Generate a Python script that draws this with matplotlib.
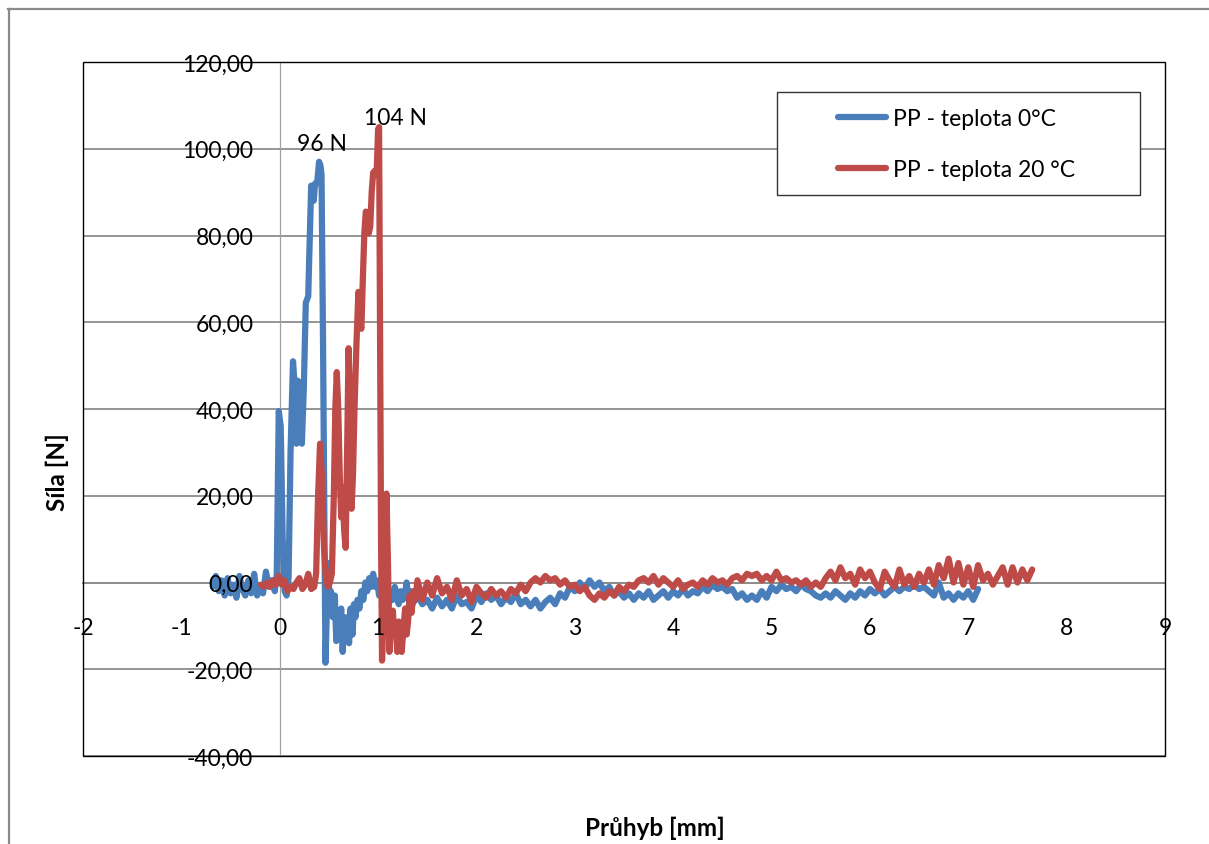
import matplotlib
matplotlib.use("Agg")
import matplotlib.pyplot as plt
from matplotlib.patches import Rectangle
from matplotlib.lines import Line2D

plt.rcParams['font.family'] = ['Lato', 'DejaVu Sans']

# --- data ----------------------------------------------------------------
# PP at 0 degC (blue)
x_cold = [-0.68, -0.65, -0.62, -0.59, -0.56, -0.53, -0.50, -0.47, -0.44, -0.41,
          -0.38, -0.35, -0.32, -0.29, -0.26, -0.23, -0.20, -0.17, -0.14, -0.11,
          -0.08, -0.05, -0.03,
          -0.01, 0.01, 0.03, 0.05, 0.07, 0.09, 0.11, 0.135, 0.15, 0.17,
          0.185, 0.20, 0.215, 0.225, 0.245, 0.265, 0.29, 0.30, 0.32, 0.335,
          0.345, 0.36, 0.38, 0.40, 0.415, 0.425, 0.44, 0.455, 0.465, 0.475,
          0.49, 0.505, 0.52, 0.54, 0.56, 0.575, 0.595, 0.61, 0.625, 0.64,
          0.655, 0.67, 0.69, 0.705, 0.72, 0.74, 0.755, 0.77, 0.79, 0.81,
          0.83, 0.85, 0.87, 0.89, 0.91, 0.93, 0.95, 0.97, 0.99, 1.01,
          1.03, 1.05, 1.07, 1.09, 1.11, 1.13, 1.15, 1.17, 1.19, 1.21,
          1.23, 1.25, 1.27, 1.29, 1.31, 1.33, 1.35,
          1.40, 1.45, 1.50, 1.55, 1.60, 1.65, 1.70, 1.75, 1.80, 1.85,
          1.90, 1.95, 2.00, 2.05, 2.10, 2.15, 2.20, 2.25, 2.30, 2.35,
          2.40, 2.45, 2.50, 2.55, 2.60, 2.65, 2.70, 2.75, 2.80, 2.85,
          2.90, 2.95, 3.00, 3.05, 3.10, 3.15, 3.20, 3.25, 3.30, 3.35,
          3.40, 3.45, 3.50, 3.55, 3.60, 3.65, 3.70, 3.75, 3.80, 3.85,
          3.90, 3.95, 4.00, 4.05, 4.10, 4.15, 4.20, 4.25, 4.30, 4.35,
          4.40, 4.45, 4.50, 4.55, 4.60, 4.65, 4.70, 4.75, 4.80, 4.85,
          4.90, 4.95, 5.00, 5.05, 5.10, 5.15, 5.20, 5.25, 5.30, 5.35,
          5.40, 5.45, 5.50, 5.55, 5.60, 5.65, 5.70, 5.75, 5.80, 5.85,
          5.90, 5.95, 6.00, 6.05, 6.10, 6.15, 6.20, 6.25, 6.30, 6.35,
          6.40, 6.45, 6.50, 6.55, 6.60, 6.65, 6.70, 6.75, 6.80, 6.85,
          6.90, 6.95, 7.00, 7.05, 7.10]
y_cold = [-1, 1.5, -2, 0.5, -3, 1, -2.5, -0.5, -3.5, 1.5,
          -1.5, -3, 0.5, -2.5, 2, -3, -1, -2.5, 2.5, -1,
          0.5, -2, 2,
          39.5, 36, 10, -2, -3, 1, 30, 51, 46, 32,
          46.5, 36, 46, 32, 45, 64.5, 66, 75, 91.5, 90,
          88, 92, 92, 97, 96, 94, 56, 10, -18.5, -10,
          4.5, -3, -2, -8, -3, -13.5, -7, -10, -6, -16,
          -8, -10, -8, -14, -6, -12, -5, -8, -4, -6,
          -2, -4, 0, -2, 1, -1, 2, -1, 0.5, -3,
          -2, -4, -1, -3, -5, -2, -4, -1, -3, -5,
          -2, -4, -3, 0, -4, -2, -5,
          -3, -5, -4, -6, -3.5, -5.5, -4, -6, -3, -5,
          -4.5, -6, -3, -4.5, -2.5, -4, -3, -5, -3.5, -4.5,
          -2.5, -5, -4, -5.5, -4, -6, -4.5, -3.5, -5, -2.5,
          -3.5, -1, -2, 0, -1.5, 0.5, -1, 0, -2, -1,
          -3, -2, -3.5, -2.5, -4, -2.5, -3.5, -2, -4, -3,
          -2, -3.5, -2, -3, -1.5, -3, -2, -2.5, -1, -2,
          -0.5, -1.5, -1, -2, -1.5, -3.5, -2.5, -4, -3, -4,
          -2, -3.5, -1, -2, -0.5, -1.5, -1, -2, -0.5, -1.5,
          -2, -3, -3.5, -2.5, -3.5, -2, -3, -4, -2.5, -3.5,
          -2, -3, -1.5, -2.5, -1.5, -3, -2, -1, -2, -1,
          -1.5, -0.5, -1.5, -1, -2, -3, 0, -3.5, -2.5, -4,
          -2.5, -3.5, -2, -4, -1.5]

# PP at 20 degC (red)
x_warm = [-0.19, -0.16, -0.13, -0.10, -0.07, -0.04, -0.01, 0.02, 0.05, 0.08,
          0.11, 0.14, 0.17, 0.20, 0.23, 0.26, 0.29, 0.32, 0.35,
          0.37, 0.39, 0.41, 0.43, 0.45, 0.47, 0.49, 0.51, 0.53, 0.55,
          0.565, 0.58, 0.595, 0.61, 0.625, 0.64, 0.655, 0.67, 0.685, 0.70,
          0.715, 0.73, 0.745, 0.76, 0.78, 0.80, 0.815, 0.83, 0.845, 0.86,
          0.875, 0.89, 0.905, 0.92, 0.935, 0.95, 0.97, 0.985, 1.00, 1.01,
          1.02, 1.03, 1.04, 1.055, 1.07, 1.085, 1.10, 1.115, 1.13, 1.15,
          1.165, 1.18, 1.195, 1.21, 1.225, 1.24, 1.26, 1.275, 1.29, 1.305,
          1.32, 1.34, 1.36, 1.38,
          1.40, 1.45, 1.50, 1.55, 1.60, 1.65, 1.70, 1.75, 1.80, 1.85,
          1.90, 1.95, 2.00, 2.05, 2.10, 2.15, 2.20, 2.25, 2.30, 2.35,
          2.40, 2.45, 2.50, 2.55, 2.60, 2.65, 2.70, 2.75, 2.80, 2.85,
          2.90, 2.95, 3.00, 3.05, 3.10, 3.15, 3.20, 3.25, 3.30, 3.35,
          3.40, 3.45, 3.50, 3.55, 3.60, 3.65, 3.70, 3.75, 3.80, 3.85,
          3.90, 3.95, 4.00, 4.05, 4.10, 4.15, 4.20, 4.25, 4.30, 4.35,
          4.40, 4.45, 4.50, 4.55, 4.60, 4.65, 4.70, 4.75, 4.80, 4.85,
          4.90, 4.95, 5.00, 5.05, 5.10, 5.15, 5.20, 5.25, 5.30, 5.35,
          5.40, 5.45, 5.50, 5.55, 5.60, 5.65, 5.70, 5.75, 5.80, 5.85,
          5.90, 5.95, 6.00, 6.05, 6.10, 6.15, 6.20, 6.25, 6.30, 6.35,
          6.40, 6.45, 6.50, 6.55, 6.60, 6.65, 6.70, 6.75, 6.80, 6.85,
          6.90, 6.95, 7.00, 7.05, 7.10, 7.15, 7.20, 7.25, 7.30, 7.35,
          7.40, 7.45, 7.50, 7.55, 7.60, 7.65]
y_warm = [-0.5, -1, 0, -1, 0.5, -0.5, 1.5, -0.5, 0.5, -2,
          -1, -1.5, 0, 1, -1.5, -0.5, 2, -1.5, -1,
          2, 20, 32, 24, 8, 1, -1, 0, 2, 20,
          40, 48.5, 40, 25, 15, 22, 12, 8, 30, 54,
          40, 17, 25, 40, 55, 67, 60, 58.5, 70, 80.5,
          85.5, 85, 80.5, 82, 90, 94.5, 95, 94, 104.5, 105,
          60, 10, -18, -8, -2, 20.5, 5, -16, -10, -6.5,
          -12, -10, -16, -9, -13, -16, -10, -6, -12, -9,
          -3, -7, -2, -4,
          0.5, -4, 0, -3, 1, -2.5, -1, -4, 0.5, -3,
          -1.5, -4.5, -1, -2.5, -3.5, -1.5, -3, -2, -3.5, -1.5,
          -2.5, -0.5, -2, 0, 1, 0, 1.5, 0.5, 1, -0.5,
          0.5, -1, -0.5, -2, -1, -3, -4, -2.5, -3.5, -2,
          -3, -1, -2, -0.5, -1, 0.5, 1, 0, 1.5, -0.5,
          1, 0, -1, 0.5, -1.5, -0.5, 0, -1, 0.5, -0.5,
          1, 0, 0.5, -0.5, 1, 1.5, 0.5, 2, 1.5, 2,
          0.5, 1.5, 0.5, 2.5, 0.5, 1, 0, 0.5, -0.5, 0.5,
          -1, 0, -1, 1, 2.5, 0.5, 3.5, 1, 2, -0.5,
          3, 1, 2.5, 0, -1.5, 2.5, 0.5, -1, 3, -0.5,
          1.5, -1, 2, 0, 3, -0.5, 4, 1, 5.5, 0,
          4.5, -0.5, 3.5, -1, 4, 0.5, 2, -0.5, 1.5, 3.5,
          -0.5, 3.5, 0, 3, 0.5, 3]

series_labels = ['PP - teplota 0°C', 'PP - teplota 20 °C']
colors = ['#4a7ebb', '#be4b48']

x_ticks = [-2, -1, 0, 1, 2, 3, 4, 5, 6, 7, 8, 9]
y_ticks = [-40, -20, 0, 20, 40, 60, 80, 100, 120]
y_tick_labels = ['-40,00', '-20,00', '0,00', '20,00', '40,00', '60,00',
                 '80,00', '100,00', '120,00']

peak_notes = [('96 N', 0.43, 99.6), ('104 N', 1.18, 105.8)]

# --- figure --------------------------------------------------------------
W, H = 1209, 845
fig = plt.figure(figsize=(W / 100, H / 100), dpi=100)

def fx(px):
    return px / W

def fy(py):
    return 1 - py / H

FS = 16.5

# outer chart border (cut off at right and bottom in the original)
fig.add_artist(Line2D([fx(8.5), fx(8.5)], [fy(10), 0], color='#8a8a8a', lw=1.6))
fig.add_artist(Line2D([fx(8), 1], [fy(10), fy(10)], color='#8a8a8a', lw=1.6))

ax = fig.add_axes([fx(83), fy(757), fx(1165) - fx(83), fy(63) - fy(757)])
ax.set_xlim(-2, 9)
ax.set_ylim(-40, 120)

# horizontal gridlines drawn under the data, axis labels above it
ax.hlines(y_ticks, -2, 9, colors='#8c8c8c', lw=1.3, zorder=1)

ax.spines['top'].set_visible(False)
ax.spines['right'].set_visible(False)
ax.spines['bottom'].set_position(('data', 0))
ax.spines['left'].set_position(('data', 0))
ax.spines['bottom'].set_color('#8c8c8c')
ax.spines['bottom'].set_linewidth(1.3)
ax.spines['left'].set_color('#a0a0a0')
ax.spines['left'].set_linewidth(0.9)
ax.spines['bottom'].set_zorder(1.5)
ax.spines['left'].set_zorder(1.5)

ax.add_patch(Rectangle((0, 0), 1, 1, transform=ax.transAxes, fill=False,
                       edgecolor='black', lw=1.0, clip_on=False, zorder=5))

ax.set_xticks(x_ticks)
ax.set_xticklabels([str(t) for t in x_ticks])
ax.set_yticks(y_ticks)
ax.set_yticklabels(y_tick_labels)
ax.tick_params(axis='x', length=0, pad=25, labelsize=FS)
ax.tick_params(axis='y', length=0, pad=19, labelsize=FS)
ax.xaxis.set_zorder(6)
ax.yaxis.set_zorder(6)

ax.plot(x_cold, y_cold, color=colors[0], lw=4.5, solid_joinstyle='round',
        solid_capstyle='round', zorder=3)
ax.plot(x_warm, y_warm, color=colors[1], lw=4.5, solid_joinstyle='round',
        solid_capstyle='round', zorder=3)

for txt, xv, yv in peak_notes:
    ax.text(xv, yv, txt, ha='center', va='baseline', fontsize=FS, zorder=6)

ax.set_xlabel('Průhyb [mm]', fontsize=17.5, fontweight='bold', va='center')
ax.xaxis.set_label_coords((655 - 83) / 1082, (757 - 828) / 694)
ax.set_ylabel('Síla [N]', fontsize=17.5, fontweight='bold', va='center')
ax.yaxis.set_label_coords((57 - 83) / 1082, (757 - 472) / 694)

# legend box, drawn like the spreadsheet one
fig.add_artist(Rectangle((fx(777), fy(196)), fx(1140) - fx(777), fy(93) - fy(196),
                         fill=True, facecolor='white', edgecolor='#333333', lw=1.0))
for i, (lab, col) in enumerate(zip(series_labels, colors)):
    yy = 118 + i * 51
    fig.add_artist(Line2D([fx(838), fx(886)], [fy(yy), fy(yy)], color=col, lw=4.5,
                          solid_capstyle='round'))
    fig.text(fx(893), fy(yy), lab, ha='left', va='center_baseline', fontsize=FS)

fig.savefig('out.png', dpi=100)
